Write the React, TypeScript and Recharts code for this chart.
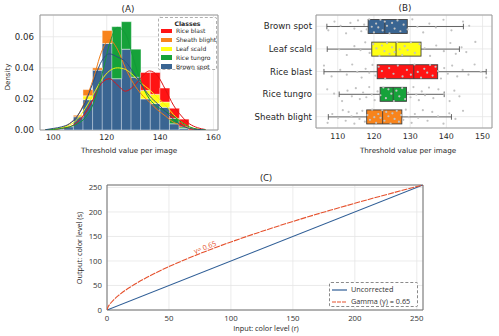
import {
  ComposedChart,
  Bar,
  Line,
  Scatter,
  XAxis,
  YAxis,
  CartesianGrid,
  ReferenceArea,
  ReferenceDot,
} from "recharts";

// ---------- (A) histogram + kde ----------
const binCenters = [102.1, 105.7, 109.3, 112.9, 116.5, 120.1, 123.7, 127.3, 130.9, 134.5, 138.1, 141.7, 145.3, 148.9, 152.5];
const riceBlastHist = [0, 0.002, 0.006, 0.012, 0.024, 0.03, 0.03, 0.025, 0.03, 0.037, 0.037, 0.027, 0.014, 0.007, 0.001];
const sheathBlightHist = [0, 0.002, 0.0095, 0.026, 0.04, 0.064, 0.05, 0.03, 0.02, 0.014, 0.01, 0.006, 0.003, 0.001, 0];
const leafScaldHist = [0, 0.002, 0.006, 0.022, 0.03, 0.036, 0.04, 0.04, 0.03, 0.0255, 0.023, 0.018, 0.006, 0.002, 0];
const riceTungroHist = [0, 0, 0.004, 0.012, 0.02, 0.045, 0.0665, 0.0697, 0.052, 0.02, 0.014, 0.014, 0.0075, 0.002, 0];
const brownSpotHist = [0.0005, 0.002, 0.0085, 0.0195, 0.0385, 0.0557, 0.033, 0.052, 0.034, 0.02, 0.017, 0.0146, 0.004, 0.001, 0];

const kdeX = [97, 100, 103, 106, 109, 112, 115, 118, 121, 124, 127, 130, 133, 136, 139, 142, 145, 148, 151, 154, 157];
const riceBlastKde = [0, 0.0003, 0.001, 0.002, 0.005, 0.011, 0.02, 0.03, 0.033, 0.029, 0.025, 0.028, 0.034, 0.038, 0.035, 0.026, 0.016, 0.009, 0.004, 0.0015, 0.0003];
const sheathBlightKde = [0, 0.0005, 0.0015, 0.004, 0.009, 0.019, 0.033, 0.05, 0.058, 0.052, 0.04, 0.03, 0.023, 0.018, 0.013, 0.009, 0.005, 0.003, 0.001, 0.0003, 0];
const leafScaldKde = [0, 0.0005, 0.0015, 0.003, 0.007, 0.014, 0.023, 0.032, 0.038, 0.04, 0.039, 0.035, 0.03, 0.026, 0.021, 0.016, 0.01, 0.005, 0.002, 0.0005, 0];
const riceTungroKde = [0, 0.0003, 0.001, 0.002, 0.004, 0.008, 0.017, 0.034, 0.055, 0.066, 0.062, 0.046, 0.03, 0.02, 0.015, 0.012, 0.009, 0.005, 0.002, 0.0005, 0];
const brownSpotKde = [0.0002, 0.001, 0.002, 0.004, 0.009, 0.018, 0.031, 0.044, 0.049, 0.047, 0.044, 0.037, 0.029, 0.022, 0.017, 0.012, 0.007, 0.003, 0.001, 0.0003, 0];

const classNames = ["Rice blast", "Sheath blight", "Leaf scald", "Rice tungro", "Brown spot"];
const classColors = ["#ff1414", "#f8841c", "#ffff14", "#16a23a", "#3a6592"];
const kdeColors = ["#e01212", "#ef7c16", "#f4f40c", "#139a38", "#2c4f7f"];

// ---------- (B) box plot ----------
const boxNames = ["Brown spot", "Leaf scald", "Rice blast", "Rice tungro", "Sheath blight"];
const boxMin = [107.0, 107.1, 106.2, 110.4, 107.4];
const boxQ1 = [118.4, 119.4, 120.9, 121.7, 118.0];
const boxMed = [123.0, 126.1, 131.0, 125.3, 122.4];
const boxQ3 = [129.2, 133.0, 137.6, 129.0, 127.7];
const boxMax = [144.7, 143.6, 151.0, 139.4, 141.4];
const boxColors = ["#3a6592", "#ffff14", "#ff1414", "#16a23a", "#f8841c"];

const brownSpotPts = [107.2, 108.5, 110.1, 111.4, 112.2, 113.0, 113.8, 114.6, 115.3, 116.0, 116.8, 117.5, 118.2, 118.9, 119.5, 120.1, 120.6, 121.2, 121.8, 122.3, 122.9, 123.4, 124.0, 124.6, 125.1, 125.7, 126.3, 126.9, 127.5, 128.1, 128.8, 129.6, 130.4, 131.3, 132.2, 133.5, 134.8, 136.1, 137.7, 139.2, 140.8, 142.5, 144.6];
const leafScaldPts = [107.1, 109.0, 111.2, 112.7, 113.9, 115.0, 116.1, 117.0, 117.9, 118.7, 119.4, 120.2, 121.0, 121.8, 122.6, 123.3, 124.0, 124.8, 125.5, 126.2, 127.0, 127.8, 128.6, 129.4, 130.1, 130.9, 131.7, 132.4, 133.2, 134.1, 135.2, 136.4, 137.8, 139.3, 140.9, 142.2, 143.6];
const riceBlastPts = [106.2, 108.3, 110.7, 112.5, 114.0, 115.4, 116.6, 117.7, 118.7, 119.6, 120.4, 121.3, 122.2, 123.1, 124.2, 125.4, 126.6, 127.9, 129.1, 130.2, 131.2, 132.1, 133.0, 133.9, 134.7, 135.5, 136.2, 137.0, 137.7, 138.5, 139.4, 140.4, 141.6, 143.0, 144.5, 146.1, 147.8, 149.5, 151.0];
const riceTungroPts = [110.4, 112.5, 114.6, 116.3, 117.6, 118.8, 119.8, 120.7, 121.5, 122.2, 122.9, 123.6, 124.3, 125.0, 125.7, 126.4, 127.1, 127.8, 128.5, 129.3, 130.2, 131.3, 132.6, 134.0, 135.5, 137.2, 139.3, 141.1, 142.6, 144.2, 145.5, 148.0];
const sheathBlightPts = [107.4, 109.1, 110.8, 112.3, 113.5, 114.6, 115.6, 116.5, 117.3, 118.0, 118.7, 119.4, 120.0, 120.6, 121.2, 121.8, 122.4, 123.0, 123.6, 124.3, 125.0, 125.7, 126.5, 127.3, 128.2, 129.3, 130.6, 132.0, 133.6, 135.3, 137.1, 139.2, 141.4, 144.6, 146.3];

// ---------- (C) gamma curve ----------
const uncorrR = [0, 255];
const uncorrS = [0, 255];
const gammaR = [0, 1, 2, 5, 10, 20, 30, 40, 50, 60, 70, 80, 90, 100, 120, 140, 160, 180, 200, 220, 240, 255];
const gammaS = [0, 7.0, 10.9, 19.8, 31.1, 48.7, 63.4, 76.5, 88.5, 99.6, 110.1, 120.0, 129.6, 138.8, 156.2, 172.7, 188.4, 203.3, 217.7, 231.7, 245.2, 255];

// layered histogram: blue drawn last, so each colour only shows above the ones in front of it
const histRows = binCenters.map((x, i) => {
  const b = brownSpotHist[i];
  const g = riceTungroHist[i];
  const y = leafScaldHist[i];
  const o = sheathBlightHist[i];
  const r = riceBlastHist[i];
  const m1 = Math.max(b, g);
  const m2 = Math.max(m1, y);
  const m3 = Math.max(m2, o);
  return {
    x,
    blue: b,
    green: Math.max(0, g - b),
    yellow: Math.max(0, y - m1),
    orange: Math.max(0, o - m2),
    red: Math.max(0, r - m3),
  };
});
const histSegs = [
  { key: "blue", color: classColors[4] },
  { key: "green", color: classColors[3] },
  { key: "yellow", color: classColors[2] },
  { key: "orange", color: classColors[1] },
  { key: "red", color: classColors[0] },
];
const kdeSeries = [riceBlastKde, sheathBlightKde, leafScaldKde, riceTungroKde, brownSpotKde].map((arr) =>
  kdeX.map((x, i) => ({ x, d: arr[i] }))
);

const boxRows = boxNames.map((name, i) => ({
  name,
  range: [boxMin[i], boxMax[i]],
  q1: boxQ1[i],
  med: boxMed[i],
  q3: boxQ3[i],
}));
const jitter = [-0.27, 0.12, -0.05, 0.29, -0.18, 0.21, 0.02, -0.31, 0.15, -0.1, 0.26, -0.22, 0.07, -0.14, 0.31, -0.02];
const stripPts = [brownSpotPts, leafScaldPts, riceBlastPts, riceTungroPts, sheathBlightPts].flatMap((arr, c) =>
  arr.map((v, k) => ({ v, j: c + jitter[(k + c * 5) % jitter.length] }))
);

const uncorrData = uncorrR.map((r, i) => ({ r, s: uncorrS[i] }));
const gammaData = gammaR.map((r, i) => ({ r, s: gammaS[i] }));

const DJ = "'DejaVu Sans', sans-serif";
const OS = "'Open Sans', 'Noto Sans', sans-serif";

function Txt({ x, y, size, rotate, font, bold, children }: any) {
  return (
    <div
      style={{
        position: "absolute",
        left: x,
        top: y,
        transform: `translate(-50%, -50%)${rotate ? ` rotate(${rotate}deg)` : ""}`,
        fontSize: size,
        fontFamily: font,
        fontWeight: bold ? "bold" : "normal",
        color: "#262626",
        whiteSpace: "nowrap",
        lineHeight: 1,
      }}
    >
      {children}
    </div>
  );
}

function BoxShape(props: any) {
  const { x, y, width, height, payload, index } = props;
  const [lo, hi] = payload.range;
  const px = (v: number) => x + ((v - lo) / (hi - lo)) * width;
  const cy = y + height / 2;
  const cap = height * 0.2;
  const edge = "#404040";
  return (
    <g>
      <line x1={x} x2={px(payload.q1)} y1={cy} y2={cy} stroke="#555" strokeWidth={0.9} />
      <line x1={px(payload.q3)} x2={x + width} y1={cy} y2={cy} stroke="#555" strokeWidth={0.9} />
      <line x1={x} x2={x} y1={cy - cap} y2={cy + cap} stroke="#555" strokeWidth={0.9} />
      <line x1={x + width} x2={x + width} y1={cy - cap} y2={cy + cap} stroke="#555" strokeWidth={0.9} />
      <rect
        x={px(payload.q1)}
        y={y}
        width={px(payload.q3) - px(payload.q1)}
        height={height}
        fill={boxColors[index]}
        stroke={edge}
        strokeWidth={0.9}
      />
      <line x1={px(payload.med)} x2={px(payload.med)} y1={y} y2={y + height} stroke={edge} strokeWidth={0.9} />
    </g>
  );
}

const StripDot = (p: any) => <circle cx={p.cx} cy={p.cy} r={1.1} fill="#c2c2c2" />;

const CatTick = (p: any) => (
  <text x={p.x} y={p.y} textAnchor="end" dominantBaseline="central" fontSize={8.6} fontFamily={DJ} fill="#262626">
    {p.payload.value}
  </text>
);

const GammaLabel = (p: any) => (
  <text
    x={p.cx}
    y={p.cy}
    transform={`rotate(-21 ${p.cx} ${p.cy})`}
    textAnchor="middle"
    dominantBaseline="central"
    fontSize={7}
    fontFamily={OS}
    fill="#e5512d"
  >
    γ= 0.65
  </text>
);

export default function App() {
  return (
    <div style={{ position: "fixed", left: 0, top: 0, width: 499, height: 336, background: "#fff", overflow: "hidden" }}>
      {/* (A) */}
      <div style={{ position: "absolute", left: 0, top: 0 }}>
        <ComposedChart
          width={250}
          height={165}
          data={histRows}
          barCategoryGap={0}
          margin={{ top: 15, right: 32, bottom: 15, left: 10 }}
        >
          <CartesianGrid xAxisId="h" stroke="#e6e6e6" strokeWidth={0.8} />
          <XAxis
            xAxisId="h"
            dataKey="x"
            type="number"
            domain={[95, 161.7]}
            allowDataOverflow
            ticks={[100, 120, 140, 160]}
            tick={{ fontSize: 7.8, fill: "#262626", fontFamily: DJ }}
            tickSize={0}
            tickMargin={4}
            axisLine={false}
            height={20}
          />
          <XAxis xAxisId="k" dataKey="x" type="number" domain={[95, 161.7]} allowDataOverflow hide />
          <YAxis
            type="number"
            domain={[0, 0.074]}
            allowDataOverflow
            ticks={[0, 0.02, 0.04, 0.06]}
            tickFormatter={(v: number) => v.toFixed(2)}
            tick={{ fontSize: 8.6, fill: "#262626", fontFamily: DJ }}
            tickSize={0}
            tickMargin={6}
            axisLine={false}
            width={30}
          />
          {histSegs.map((s) => (
            <Bar
              key={s.key}
              xAxisId="h"
              dataKey={s.key}
              stackId="hist"
              fill={s.color}
              stroke="#ffffff"
              strokeOpacity={0.55}
              strokeWidth={0.8}
              isAnimationActive={false}
            />
          ))}
          {kdeSeries.map((d, i) => (
            <Line
              key={classNames[i]}
              xAxisId="k"
              data={d}
              dataKey="d"
              type="monotone"
              stroke={kdeColors[i]}
              strokeWidth={1}
              dot={false}
              isAnimationActive={false}
            />
          ))}
          <ReferenceArea xAxisId="h" x1={95} x2={161.7} y1={0} y2={0.074} fill="none" stroke="#9a9a9a" strokeWidth={1} />
        </ComposedChart>
      </div>
      <Txt x={128} y={8.5} size={8.8} font={DJ}>(A)</Txt>
      <Txt x={7.5} y={77} size={7} font={DJ} rotate={-90}>Density</Txt>
      <Txt x={129} y={150.5} size={7.2} font={DJ}>Threshold value per image</Txt>
      <div
        style={{
          position: "absolute",
          left: 158,
          top: 17,
          width: 59,
          height: 53,
          border: "1px dashed #b0b0b0",
          borderRadius: 2,
          background: "rgba(255,255,255,0.85)",
          boxSizing: "border-box",
          fontFamily: DJ,
        }}
      >
        <div style={{ position: "absolute", top: 3, width: "100%", textAlign: "center", fontSize: 6.2, fontWeight: "bold", color: "#262626", lineHeight: 1 }}>
          Classes
        </div>
        {classNames.map((n, i) => (
          <div key={n} style={{ position: "absolute", left: 2, top: 10 + i * 8.9, height: 6, display: "flex", alignItems: "center" }}>
            <div style={{ width: 11, height: 4.5, background: classColors[i] }} />
            <div style={{ marginLeft: 4, fontSize: 6, color: "#262626", whiteSpace: "nowrap", lineHeight: 1 }}>{n}</div>
          </div>
        ))}
      </div>

      {/* (B) */}
      <div style={{ position: "absolute", left: 250, top: 0 }}>
        <ComposedChart
          layout="vertical"
          width={249}
          height={165}
          data={boxRows}
          barCategoryGap="20%"
          margin={{ top: 15, right: 7, bottom: 17, left: 0 }}
        >
          <CartesianGrid stroke="#e6e6e6" strokeWidth={0.8} />
          <XAxis
            type="number"
            domain={[104, 152.6]}
            allowDataOverflow
            ticks={[110, 120, 130, 140, 150]}
            tick={{ fontSize: 7.9, fill: "#262626", fontFamily: DJ }}
            tickSize={0}
            tickMargin={5}
            axisLine={false}
            height={20}
          />
          <YAxis
            type="category"
            dataKey="name"
            width={66}
            interval={0}
            tick={CatTick}
            tickSize={0}
            tickMargin={4}
            axisLine={false}
          />
          <XAxis xAxisId="s" type="number" dataKey="v" domain={[104, 152.6]} allowDataOverflow hide />
          <YAxis yAxisId="j" type="number" dataKey="j" domain={[-0.5, 4.5]} reversed hide />
          <Bar dataKey="range" shape={BoxShape} isAnimationActive={false} />
          <Scatter xAxisId="s" yAxisId="j" data={stripPts} shape={StripDot} isAnimationActive={false} />
          <ReferenceArea x1={104} x2={152.6} fill="none" stroke="#9a9a9a" strokeWidth={1} />
        </ComposedChart>
      </div>
      <Txt x={405} y={7.5} size={8.8} font={DJ}>(B)</Txt>
      <Txt x={408} y={150.5} size={7.2} font={DJ}>Threshold value per image</Txt>

      {/* (C) */}
      <div style={{ position: "absolute", left: 0, top: 165 }}>
        <ComposedChart width={499} height={171} margin={{ top: 20, right: 76, bottom: 10, left: 77 }}>
          <CartesianGrid stroke="#e6e6e6" strokeWidth={0.8} />
          <XAxis
            type="number"
            dataKey="r"
            domain={[0, 255]}
            allowDataOverflow
            ticks={[0, 50, 100, 150, 200, 250]}
            tick={{ fontSize: 7.8, fill: "#333", fontFamily: OS }}
            tickSize={0}
            tickMargin={5}
            axisLine={false}
            height={16}
          />
          <YAxis
            type="number"
            domain={[0, 255]}
            allowDataOverflow
            ticks={[0, 50, 100, 150, 200, 250]}
            tick={{ fontSize: 7.8, fill: "#333", fontFamily: OS }}
            tickSize={0}
            tickMargin={5}
            axisLine={false}
            width={30}
          />
          <Line data={uncorrData} dataKey="s" stroke="#2f5e96" strokeWidth={1.1} dot={false} isAnimationActive={false} />
          <Line
            data={gammaData}
            dataKey="s"
            type="monotone"
            stroke="#e5512d"
            strokeWidth={1.1}
            strokeDasharray="6 1"
            dot={false}
            isAnimationActive={false}
          />
          <ReferenceDot x={79} y={128} r={0} shape={GammaLabel} />
          <ReferenceArea x1={0} x2={255} y1={0} y2={255} fill="none" stroke="#6e6e6e" strokeWidth={1} />
        </ComposedChart>
      </div>
      <Txt x={266} y={178} size={9.5} font={OS}>(C)</Txt>
      <Txt x={80} y={248} size={7.3} font={OS} rotate={-90}>Output: color level (s)</Txt>
      <Txt x={266} y={329} size={7.3} font={OS}>Input: color level (r)</Txt>
      <div
        style={{
          position: "absolute",
          left: 329,
          top: 282,
          width: 89,
          height: 25,
          border: "1px dashed #8a8a8a",
          borderRadius: 2,
          background: "rgba(255,255,255,0.9)",
          boxSizing: "border-box",
          fontFamily: OS,
        }}
      >
        {[
          { label: "Uncorrected", color: "#2f5e96", dash: undefined },
          { label: "Gamma (γ) = 0.65", color: "#e5512d", dash: "4 1" },
        ].map((it, i) => (
          <div key={it.label} style={{ position: "absolute", left: 2, top: 3 + i * 11.5, height: 8, display: "flex", alignItems: "center" }}>
            <svg width={15} height={4}>
              <line x1={0} x2={15} y1={2} y2={2} stroke={it.color} strokeWidth={1.2} strokeDasharray={it.dash} />
            </svg>
            <div style={{ marginLeft: 4, fontSize: 7.3, color: "#333", whiteSpace: "nowrap", lineHeight: 1 }}>{it.label}</div>
          </div>
        ))}
      </div>
    </div>
  );
}
